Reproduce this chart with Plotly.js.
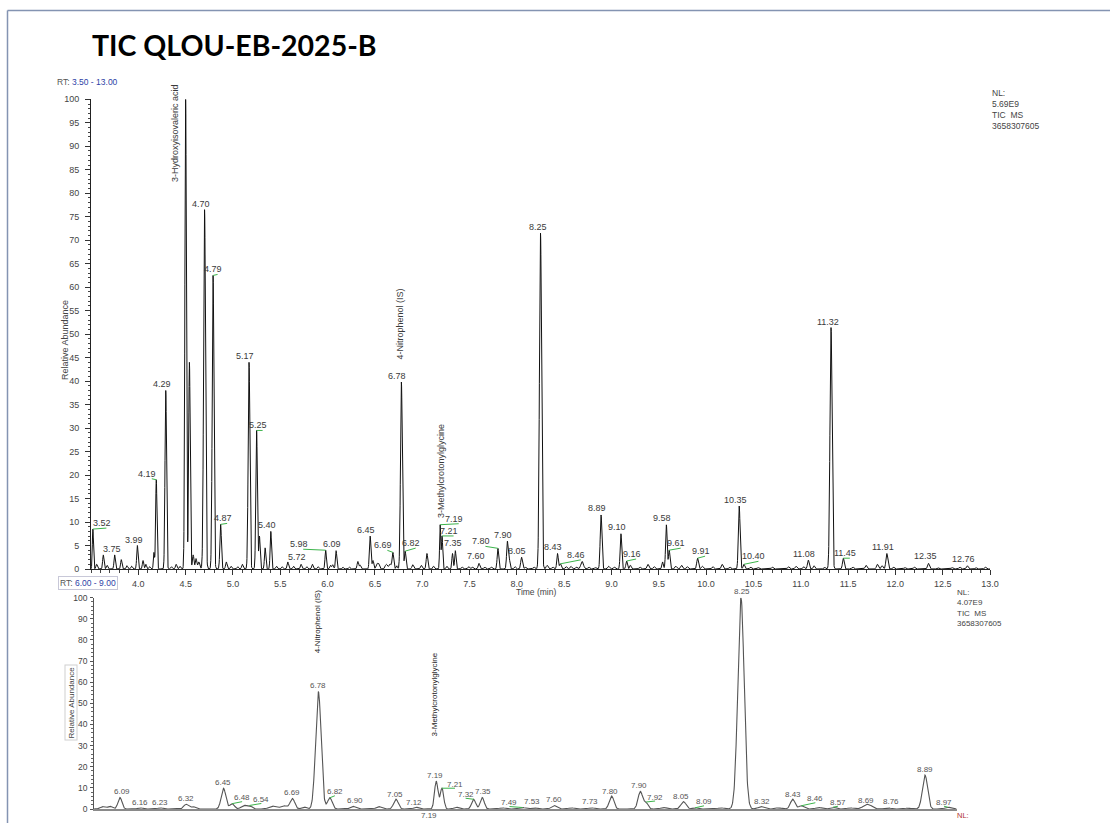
<!DOCTYPE html>
<html>
<head>
<meta charset="utf-8">
<title>TIC QLOU-EB-2025-B</title>
<script src="https://cdn.plot.ly/plotly-3.0.1.min.js"></script>
<style>
  html, body { margin: 0; padding: 0; background: #ffffff; }
  #chart { width: 1110px; height: 823px; }
</style>
</head>
<body>
<div id="chart"></div>
<script>
// Total ion chromatogram, described as a peak table.
// Retention time (min)
const peakRt = [
  3.52, 3.56, 3.63, 3.67, 3.75, 3.82, 3.88, 3.93, 3.99, 4.05,
  4.08, 4.12, 4.165, 4.19, 4.29, 4.35, 4.40, 4.44, 4.50, 4.54,
  4.58, 4.61, 4.64, 4.70, 4.79, 4.87, 4.93, 4.98, 5.05, 5.10,
  5.17, 5.25, 5.28, 5.34, 5.40, 5.46, 5.52, 5.58, 5.64, 5.72,
  5.78, 5.84, 5.90, 5.98, 6.03, 6.055, 6.09, 6.16, 6.23, 6.32,
  6.345, 6.45, 6.48, 6.52, 6.54, 6.62, 6.66, 6.69, 6.73, 6.78,
  6.82, 6.90, 6.99, 7.05, 7.12, 7.19, 7.21, 7.26, 7.32, 7.35,
  7.42, 7.49, 7.53, 7.60, 7.66, 7.73, 7.80, 7.90, 7.92, 7.98,
  8.05, 8.09, 8.18, 8.25, 8.32, 8.38, 8.43, 8.46, 8.52, 8.57,
  8.63, 8.69, 8.76, 8.83, 8.89, 8.97, 9.03, 9.10, 9.16, 9.20,
  9.30, 9.385, 9.45, 9.54, 9.58, 9.61, 9.68, 9.74, 9.80, 9.91,
  9.96, 10.07, 10.17, 10.25, 10.35, 10.40, 10.47, 10.55, 10.70, 10.87,
  10.95, 11.03, 11.08, 11.14, 11.25, 11.32, 11.45, 11.55, 11.69, 11.81,
  11.86, 11.91, 11.98, 12.10, 12.20, 12.35, 12.45, 12.60, 12.68, 12.76,
  12.85, 12.95
];
// Peak height, % of the full-range normalisation level (NL 5.69E9)
const peakHeight = [
  8.5, 1.0, 3.0, 0.8, 3.0, 2.0, 0.7, 0.6, 5.0, 1.8,
  1.0, 0.5, 3.5, 19.0, 38.0, 0.5, 1.0, 0.6, 100.0, 44.0,
  3.0, 2.2, 1.5, 76.5, 62.5, 9.5, 1.5, 0.6, 0.5, 1.0,
  44.0, 29.5, 7.0, 4.5, 8.0, 0.6, 0.5, 1.5, 0.6, 1.0,
  0.5, 1.0, 0.5, 4.0, 0.8, 0.9, 3.9, 0.4, 0.4, 1.6,
  0.8, 7.0, 1.8, 1.1, 1.1, 1.0, 1.1, 3.5, 0.7, 39.8,
  3.8, 0.9, 0.8, 3.3, 0.6, 9.4, 7.0, 0.6, 3.3, 3.9,
  0.4, 0.5, 0.4, 1.2, 0.4, 0.4, 4.4, 5.9, 2.1, 0.5,
  2.5, 0.4, 0.4, 71.5, 0.8, 0.4, 3.3, 1.1, 0.5, 0.6,
  0.4, 1.6, 0.4, 0.3, 11.5, 0.6, 0.4, 7.5, 1.7, 0.8,
  0.4, 1.0, 0.5, 1.5, 9.4, 4.0, 0.6, 0.8, 0.5, 2.3,
  0.6, 0.5, 1.0, 0.4, 13.4, 1.0, 0.4, 0.3, 0.4, 0.5,
  0.6, 0.5, 1.9, 0.7, 0.4, 51.4, 2.3, 0.4, 0.8, 1.0,
  0.7, 3.3, 0.4, 0.3, 0.4, 1.2, 0.3, 0.3, 0.4, 0.7,
  0.3, 0.4
];
// Peak width as Gaussian sigma (min)
const peakSigma = [
  0.006, 0.008, 0.007, 0.008, 0.007, 0.007, 0.008, 0.008, 0.007, 0.007,
  0.007, 0.008, 0.006, 0.007, 0.008, 0.008, 0.008, 0.008, 0.008, 0.008,
  0.008, 0.008, 0.010, 0.010, 0.009, 0.008, 0.008, 0.008, 0.008, 0.008,
  0.009, 0.008, 0.007, 0.007, 0.007, 0.008, 0.008, 0.008, 0.008, 0.008,
  0.008, 0.008, 0.008, 0.007, 0.008, 0.008, 0.007, 0.008, 0.008, 0.008,
  0.008, 0.008, 0.008, 0.009, 0.009, 0.012, 0.012, 0.008, 0.008, 0.0095,
  0.008, 0.009, 0.009, 0.008, 0.008, 0.006, 0.006, 0.008, 0.007, 0.007,
  0.010, 0.010, 0.010, 0.009, 0.010, 0.010, 0.008, 0.008, 0.007, 0.009,
  0.009, 0.009, 0.010, 0.011, 0.010, 0.010, 0.008, 0.009, 0.010, 0.010,
  0.010, 0.014, 0.010, 0.010, 0.009, 0.010, 0.010, 0.008, 0.008, 0.008,
  0.010, 0.010, 0.010, 0.008, 0.008, 0.008, 0.010, 0.010, 0.010, 0.009,
  0.010, 0.010, 0.010, 0.010, 0.009, 0.009, 0.010, 0.010, 0.010, 0.010,
  0.010, 0.010, 0.009, 0.009, 0.010, 0.011, 0.009, 0.010, 0.010, 0.010,
  0.010, 0.010, 0.010, 0.010, 0.010, 0.010, 0.010, 0.010, 0.010, 0.010,
  0.010, 0.010
];

// Normalisation levels of the two views
const nlTop = 5.69e9;
const nlBottom = 4.07e9;
const scanFilter = 'TIC\u00a0 MS';
const sampleId = '3658307605';

// Time windows (min)
const rtWindowTop = [3.50, 13.00];
const rtWindowBottom = [6.00, 9.00];

// Tick labels
const xTicksTop = [4.0, 4.5, 5.0, 5.5, 6.0, 6.5, 7.0, 7.5, 8.0, 8.5, 9.0, 9.5,
                   10.0, 10.5, 11.0, 11.5, 12.0, 12.5, 13.0];
const yTicksTop = [0, 5, 10, 15, 20, 25, 30, 35, 40, 45, 50, 55, 60, 65, 70,
                   75, 80, 85, 90, 95, 100];
const yTicksBottom = [0, 10, 20, 30, 40, 50, 60, 70, 80, 90, 100];

// Peaks annotated with their retention time
const labelsTop = [3.52, 3.75, 3.99, 4.19, 4.29, 4.70, 4.79, 4.87, 5.17, 5.25,
                   5.40, 5.72, 5.98, 6.09, 6.45, 6.69, 6.78, 6.82, 7.19, 7.21,
                   7.35, 7.60, 7.80, 7.90, 8.05, 8.25, 8.43, 8.46, 8.89, 9.10,
                   9.16, 9.58, 9.61, 9.91, 10.35, 10.40, 11.08, 11.32, 11.45,
                   11.91, 12.35, 12.76];
const labelsBottom = [6.09, 6.16, 6.23, 6.32, 6.45, 6.48, 6.54, 6.69, 6.78, 6.82,
                      6.90, 7.05, 7.12, 7.19, 7.21, 7.32, 7.35, 7.49, 7.53, 7.60,
                      7.73, 7.80, 7.90, 7.92, 8.05, 8.09, 8.25, 8.32, 8.43, 8.46,
                      8.57, 8.69, 8.76, 8.89, 8.97];

// Identified compounds
const compoundNames = ['3-Hydroxyisovaleric acid', '4-Nitrophenol (IS)', '3-Methylcrotonylglycine'];
const compoundRt = [4.50, 6.78, 7.19];

// ---------------------------------------------------------------------------
// Label placement: [x offset px, offset up px, leader line?]
const placeTop = {
  '3.52': [9, 6, 1], '3.75': [-3, 6], '3.99': [-3, 6], '4.19': [-9, 6, 1],
  '4.29': [-4, 6.5], '4.70': [-4, 6], '4.79': [0, 6, 1], '4.87': [2, 6, 1],
  '5.17': [-4, 6], '5.25': [1.5, 5, 1], '5.40': [-4, 6], '5.72': [-4, 7.5],
  '5.98': [-27, 6, 1], '6.09': [-4, 7], '6.69': [-10, 7, 1], '6.82': [6, 8, 1],
  '7.19': [14, 6, 1], '7.21': [7, 5, 1], '7.35': [-2, 7.5], '7.60': [-3, 7],
  '7.80': [-17, 7, 1], '8.05': [-5, 6], '8.25': [-3, 6], '8.43': [-5, 6],
  '8.46': [16, 9, 1], '9.16': [5, 7, 1], '9.61': [7, 7, 1], '9.91': [3, 7, 1],
  '10.40': [10, 8, 1], '11.32': [-3, 6], '11.45': [2, 5, 1], '12.35': [-3, 7]
};
const placeTopDefault = [-4, 6.5];
const placeBottom = {
  '6.09': [2, 6], '6.16': [0, 5], '6.23': [0, 5], '6.48': [10, 6, 1],
  '6.54': [12, 6, 1], '6.82': [5, 6, 1], '6.90': [2, 6], '7.05': [-1, 5],
  '7.12': [-2, 5], '7.19': [-1, 6], '7.21': [13, 4, 1], '7.32': [-8, 5, 1],
  '7.35': [1, 6], '7.49': [-13, 5, 1], '7.53': [-2, 6], '7.73': [-1, 6],
  '7.80': [-2, 5], '7.90': [-1, 6], '7.92': [9, 5, 1], '8.05': [-2, 5],
  '8.09': [9, 6, 1], '8.25': [1, 6], '8.32': [1, 5], '8.43': [0, 5],
  '8.46': [14, 7, 1], '8.57': [5, 5, 1], '8.69': [-1, 4], '8.76': [3, 6],
  '8.97': [-4, 5, 1]
};
const placeBottomDefault = [0, 6];
// compound name: [x offset px, offset up px] for the top and bottom views
const namePlaceTop = [[-10, -34], [-1, 58], [1, 54]];
const namePlaceBottom = [null, [0, 69.5], [-2, 87]];

// ---------------------------------------------------------------------------
function signal(t) {
  let s = 0;
  for (let i = 0; i < peakRt.length; i++) {
    const d = (t - peakRt[i]) / peakSigma[i];
    if (d > -8 && d < 8) s += peakHeight[i] * Math.exp(-0.5 * d * d);
  }
  return s;
}

function timeGrid(win, step) {
  const n = Math.round((win[1] - win[0]) / step);
  const set = new Set();
  for (let k = 0; k <= n; k++) set.add(+(win[0] + k * step).toFixed(4));
  peakRt.forEach(r => { if (r >= win[0] && r <= win[1]) set.add(r); });
  return Array.from(set).sort((a, b) => a - b);
}

const scaleBottom = nlTop / nlBottom;
const tTop = timeGrid(rtWindowTop, 0.002);
const yTop = tTop.map(t => signal(t));
const tBot = timeGrid(rtWindowBottom, 0.001);
const yBot = tBot.map(t => signal(t) * scaleBottom);

// annotation anchors must stay inside the 0-100 % axis range to be drawn
const inRange = v => Math.min(v, 100);

const FONT = 'Liberation Sans, Arial, sans-serif';
const GREEN = '#3cb44b';
const annotations = [];
const shapes = [];

function addPeakLabels(list, place, def, xref, yref, scale, fontSize, color, leadDx, leadDy) {
  list.forEach(rt => {
    const key = rt.toFixed(2);
    const p = place[key] || def;
    const apex = inRange(signal(rt) * scale);
    annotations.push({
      x: rt, y: apex, xref: xref, yref: yref, text: key, showarrow: false,
      xanchor: 'center', yanchor: 'middle', xshift: p[0], yshift: p[1],
      font: { family: FONT, size: fontSize, color: color }
    });
    if (p[2]) {
      shapes.push({
        type: 'line', xref: xref, yref: yref, xsizemode: 'pixel', ysizemode: 'pixel',
        xanchor: rt, yanchor: apex, x0: 0, y0: 0,
        x1: p[0] + leadDx, y1: Math.max(p[1] - leadDy, 0),
        line: { color: GREEN, width: 1 }
      });
    }
  });
}

addPeakLabels(labelsTop, placeTop, placeTopDefault, 'x', 'y', 1, 9, '#3a3a3a', 4.5, 5);
addPeakLabels(labelsBottom, placeBottom, placeBottomDefault, 'x2', 'y2', scaleBottom, 8, '#555555', 0, 4);

// second 7.19 marker written under the baseline of the zoomed view
annotations.push({
  x: 7.19, y: 0, xref: 'x2', yref: 'y2', text: '7.19', showarrow: false,
  xanchor: 'center', yanchor: 'middle', xshift: -7, yshift: -6,
  font: { family: FONT, size: 8, color: '#555555' }
});

compoundNames.forEach((name, i) => {
  const rt = compoundRt[i];
  const pt = namePlaceTop[i];
  annotations.push({
    x: rt, y: inRange(signal(rt)), xref: 'x', yref: 'y', text: name, showarrow: false,
    textangle: -90, xanchor: 'center', yanchor: 'middle', xshift: pt[0], yshift: pt[1],
    font: { family: FONT, size: 9, color: '#3a3a3a' }
  });
  const pb = namePlaceBottom[i];
  if (pb) {
    annotations.push({
      x: rt, y: inRange(signal(rt) * scaleBottom), xref: 'x2', yref: 'y2', text: name, showarrow: false,
      textangle: -90, xanchor: 'center', yanchor: 'middle', xshift: pb[0], yshift: pb[1],
      font: { family: FONT, size: 8, color: '#222222' }
    });
  }
});

const W = 1110, H = 823;
const px = v => v / W;
const py = v => 1 - v / H;
const fmtNL = v => (v / 1e9).toFixed(2) + 'E9';
const fmtRT = w => w[0].toFixed(2) + ' - ' + w[1].toFixed(2);

// page texts
annotations.push(
  { xref: 'paper', yref: 'paper', x: px(90), y: py(45), xanchor: 'left', yanchor: 'middle',
    text: 'TIC QLOU-EB-2025-B', showarrow: false,
    font: { family: 'Lato, Noto Sans, sans-serif', size: 28.5, color: '#000000', weight: 700 } },
  { xref: 'paper', yref: 'paper', x: px(55), y: py(82), xanchor: 'left', yanchor: 'middle',
    text: 'RT: <span style="color:#2e3fa6">' + fmtRT(rtWindowTop) + '</span>', showarrow: false,
    font: { family: FONT, size: 8.5, color: '#555555' } },
  { xref: 'paper', yref: 'paper', x: px(990), y: py(86), xanchor: 'left', yanchor: 'top',
    align: 'left', showarrow: false,
    text: 'NL:<br>' + fmtNL(nlTop) + '<br>' + scanFilter + '<br>' + sampleId,
    font: { family: FONT, size: 8.5, color: '#444444' } },
  { xref: 'paper', yref: 'paper', x: px(536), y: py(592), xanchor: 'center', yanchor: 'middle',
    text: 'Time (min)', showarrow: false, font: { family: FONT, size: 8.5, color: '#444444' } },
  { xref: 'paper', yref: 'paper', x: px(65), y: py(340), xanchor: 'center', yanchor: 'middle',
    text: 'Relative Abundance', textangle: -90, showarrow: false,
    font: { family: FONT, size: 9, color: '#444444' } },
  { xref: 'paper', yref: 'paper', x: px(58), y: py(582.5), xanchor: 'left', yanchor: 'middle',
    text: 'RT: <span style="color:#2e3fa6">' + fmtRT(rtWindowBottom) + '</span>', showarrow: false,
    bgcolor: '#ffffff', bordercolor: '#c8c8d8', borderwidth: 1, borderpad: 1,
    font: { family: FONT, size: 8.5, color: '#555555' } },
  { xref: 'paper', yref: 'paper', x: px(70.5), y: py(703), xanchor: 'center', yanchor: 'middle',
    text: 'Relative Abundance', textangle: -90, showarrow: false,
    bordercolor: '#d0d0d0', borderwidth: 1, borderpad: 1,
    font: { family: FONT, size: 8, color: '#444444' } },
  { xref: 'paper', yref: 'paper', x: px(955), y: py(586), xanchor: 'left', yanchor: 'top',
    align: 'left', showarrow: false,
    text: 'NL:<br>' + fmtNL(nlBottom) + '<br>' + scanFilter + '<br>' + sampleId,
    font: { family: FONT, size: 8, color: '#444444' } },
  { xref: 'paper', yref: 'paper', x: px(955), y: py(815), xanchor: 'left', yanchor: 'middle',
    text: 'NL:', showarrow: false, font: { family: FONT, size: 7.5, color: '#b03030' } }
);

// slide frame
shapes.push(
  { type: 'line', xref: 'paper', yref: 'paper', x0: px(7.5), x1: 1, y0: py(10.5), y1: py(10.5),
    line: { color: '#8494b2', width: 1.5 } },
  { type: 'line', xref: 'paper', yref: 'paper', x0: px(7.5), x1: px(7.5), y0: py(10.5), y1: 0,
    line: { color: '#8494b2', width: 1.5 } }
);

const traces = [
  { x: tTop, y: yTop, xaxis: 'x', yaxis: 'y', type: 'scatter', mode: 'lines',
    line: { color: '#111111', width: 1 }, hoverinfo: 'skip', showlegend: false },
  { x: tBot, y: yBot, xaxis: 'x2', yaxis: 'y2', type: 'scatter', mode: 'lines',
    line: { color: '#555555', width: 1.1 }, hoverinfo: 'skip', showlegend: false }
];

const tickFont = { family: FONT, size: 9, color: '#444444' };
const layout = {
  width: W, height: H, autosize: false,
  margin: { l: 0, r: 0, t: 0, b: 0, pad: 0 },
  paper_bgcolor: '#ffffff', plot_bgcolor: '#ffffff',
  showlegend: false, hovermode: false,
  font: { family: FONT, size: 9, color: '#444444' },
  xaxis: {
    domain: [px(91), px(990)], range: rtWindowTop, anchor: 'y',
    showline: true, linecolor: '#222222', linewidth: 1, zeroline: false, showgrid: false,
    tickmode: 'array', tickvals: xTicksTop, ticktext: xTicksTop.map(v => v.toFixed(1)),
    ticks: 'outside', ticklen: 5, tickwidth: 1, tickcolor: '#333333', tickfont: tickFont,
    ticklabelstandoff: 1,
    minor: { dtick: 0.1, tick0: 3.5, ticks: 'outside', ticklen: 3, tickwidth: 1, tickcolor: '#444444', showgrid: false }
  },
  yaxis: {
    domain: [1 - 569 / H, 1 - 99.3 / H], range: [0, 100], anchor: 'x',
    showline: true, linecolor: '#222222', linewidth: 1, zeroline: false, showgrid: false,
    tickmode: 'array', tickvals: yTicksTop, ticktext: yTicksTop.map(String),
    ticks: 'outside', ticklen: 5, tickwidth: 1, tickcolor: '#333333', tickfont: tickFont,
    ticklabelstandoff: 4,
    minor: { dtick: 1, tick0: 0, ticks: 'outside', ticklen: 2.5, tickwidth: 1, tickcolor: '#444444', showgrid: false }
  },
  xaxis2: {
    domain: [px(94.1), px(956.6)], range: rtWindowBottom, anchor: 'y2',
    showline: true, linecolor: '#8a8a8a', linewidth: 2, zeroline: false, showgrid: false,
    showticklabels: false, ticks: ''
  },
  yaxis2: {
    domain: [1 - 809 / H, 1 - 597.7 / H], range: [0, 100], anchor: 'x2',
    showline: true, linecolor: '#555555', linewidth: 1, zeroline: false, showgrid: false,
    tickmode: 'array', tickvals: yTicksBottom, ticktext: yTicksBottom.map(String),
    ticks: 'outside', ticklen: 3, tickwidth: 1, tickcolor: '#555555',
    tickfont: { family: FONT, size: 8.5, color: '#444444' }, ticklabelstandoff: 1,
    minor: { dtick: 2, tick0: 0, ticks: 'outside', ticklen: 2, tickwidth: 1, tickcolor: '#666666', showgrid: false }
  },
  annotations: annotations,
  shapes: shapes
};

Plotly.newPlot('chart', traces, layout, { displayModeBar: false, staticPlot: true });
</script>
</body>
</html>
